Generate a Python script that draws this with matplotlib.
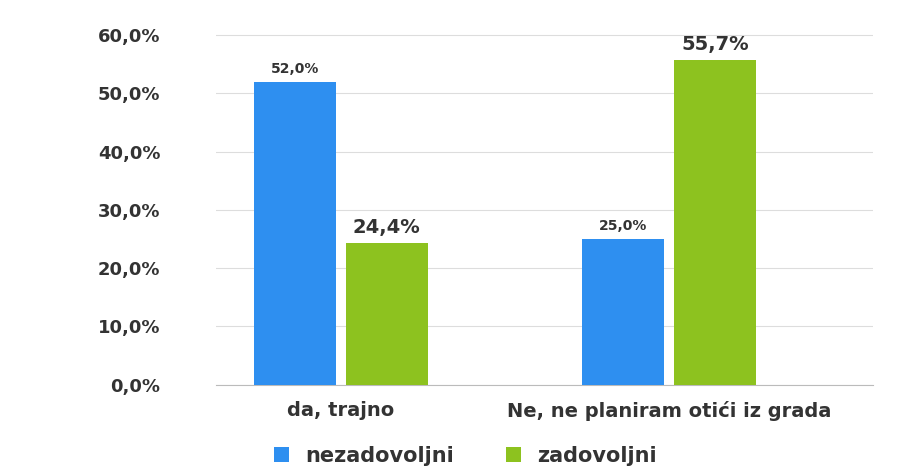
import matplotlib.pyplot as plt
import numpy as np
from matplotlib.ticker import FuncFormatter

categories = ["da, trajno", "Ne, ne planiram otići iz grada"]
series = ["nezadovoljni", "zadovoljni"]
nezadovoljni = [52.0, 25.0]
zadovoljni = [24.4, 55.7]
colors = ["#2e8ff0", "#8dc21f"]

fig, ax = plt.subplots(figsize=(9, 4.75), dpi=100)
fig.subplots_adjust(left=0.24, right=0.97, top=1.0, bottom=0.19)
x = np.arange(len(categories))
w = 0.25
for i, (vals, name) in enumerate([(nezadovoljni, series[0]), (zadovoljni, series[1])]):
    off = (i - 0.5) * (w + 0.03)
    bars = ax.bar(x + off, vals, w, color=colors[i], label=name, zorder=3)
    for b, v in zip(bars, vals):
        ax.text(b.get_x() + b.get_width() / 2, v + 1, f"{v:.1f}%".replace(".", ","),
                ha="center", va="bottom", fontsize=14 if i == 1 else 10,
                fontweight="bold", color="#333333", clip_on=False)
ax.set_ylim(0, 66)
ax.set_yticks(np.arange(0, 61, 10))
ax.yaxis.set_major_formatter(FuncFormatter(lambda v, p: f"{v:.1f}%".replace(".", ",")))
ax.grid(axis="y", color="#dddddd", zorder=0)
for s in ["top", "right", "left"]:
    ax.spines[s].set_visible(False)
ax.spines["bottom"].set_color("#bbbbbb")
ax.tick_params(axis="y", length=0, labelsize=13, labelcolor="#333333", pad=40)
for t in ax.get_yticklabels():
    t.set_fontweight("bold")
ax.tick_params(axis="x", length=0, labelsize=14, labelcolor="#333333", pad=12)
ax.set_xticks(x)
ax.set_xticklabels(categories, fontweight="bold")
ax.set_xlim(-0.38, 1.62)
ax.legend(loc="upper center", bbox_to_anchor=(0.38, -0.11), ncol=2, frameon=False,
          prop={"size": 15, "weight": "bold"}, handlelength=0.7, handleheight=0.7,
          columnspacing=2.5, labelcolor="#333333")
fig.savefig("out.png")
